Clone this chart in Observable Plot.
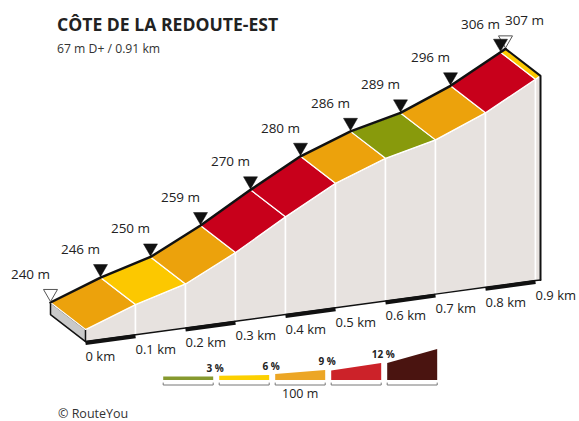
<!DOCTYPE html>
<html>
<head>
<meta charset="utf-8">
<script src="https://cdn.jsdelivr.net/npm/d3@7"></script>
<script src="https://cdn.jsdelivr.net/npm/@observablehq/plot@0.6"></script>
<style>
  body { margin: 0; background: #fff; font-family: "Open Sans", sans-serif; }
  #wrap { position: relative; width: 579px; height: 421px; overflow: hidden; }
  #chart { position: absolute; left: 0; top: 0; }
  #title { position: absolute; left: 57px; top: 15px; font-size: 17.6px; line-height: 18px; font-weight: 700; color: #222; white-space: nowrap; }
  #sub { position: absolute; left: 57px; top: 42px; font-size: 12.2px; line-height: 13px; color: #333; white-space: nowrap; }
  #legend { position: absolute; left: 150px; top: 340px; }
  #caption { position: absolute; left: 58px; top: 408px; font-size: 12.5px; line-height: 12px; color: #333; white-space: nowrap; }
</style>
</head>
<body>
<div id="wrap">
  <div id="chart"></div>
  <div id="title"></div>
  <div id="sub"></div>
  <div id="legend"></div>
  <div id="caption"></div>
</div>
<script>
// ---------- data ----------
const titleText = "CÔTE DE LA REDOUTE-EST";
const subtitleText = "67 m D+ / 0.91 km";
const captionText = "© RouteYou";

const distKm = [0, 0.1, 0.2, 0.3, 0.4, 0.5, 0.6, 0.7, 0.8, 0.9, 0.91];
const elevM  = [240, 246, 250, 259, 270, 280, 286, 289, 296, 306, 307];
// gradient class of each segment between consecutive points
const segClass = ["6-9", "3-6", "6-9", "9-12", "9-12", "6-9", "0-3", "6-9", "9-12", "3-6"];

const kmTicks  = [0, 0.1, 0.2, 0.3, 0.4, 0.5, 0.6, 0.7, 0.8, 0.9];
const kmLabels = ["0 km", "0.1 km", "0.2 km", "0.3 km", "0.4 km", "0.5 km", "0.6 km", "0.7 km", "0.8 km", "0.9 km"];

const legendClasses = ["0-3", "3-6", "6-9", "9-12", ">12"];
const legendLabels  = ["3 %", "6 %", "9 %", "12 %", ""];
const legendLengthM = 100;
const legendLengthLabel = "100 m";

// ---------- styles ----------
const classColor = {"0-3": "#889a0c", "3-6": "#fcc800", "6-9": "#eca20c", "9-12": "#c8001b", ">12": "#4a1410"};
const legendColor = {"0-3": "#86992e", "3-6": "#fcd000", "6-9": "#eca625", "9-12": "#cc2229", ">12": "#4a1410"};
const wallColor = "#e7e2df";
const sideColor = "#c9c9c9";

// oblique projection (style): tilt per km, depth offset, base of the wall
const TILT = 55.56;          // virtual metres added per km
const DEPTH_KM = 0.07, DEPTH_V = -12.5;
const baseV = km => 234.4 + 31.4 * km;
const V = (km, e) => e + TILT * km;

const back  = i => ({x: distKm[i], y: V(distKm[i], elevM[i])});
const front = i => ({x: distKm[i] + DEPTH_KM, y: V(distKm[i], elevM[i]) + DEPTH_V});
const baseF = km => ({x: km + DEPTH_KM, y: baseV(km) + DEPTH_V});
const baseB = km => ({x: km, y: baseV(km)});

const n = distKm.length;

// polygons
const wall = [], ribbon = [];
for (let i = 0; i < n - 1; i++) {
  const a = front(i), b = front(i + 1), c = baseF(distKm[i + 1]), d = baseF(distKm[i]);
  [a, b, c, d, a].forEach(p => wall.push({...p, id: i}));
  const e = back(i), f = back(i + 1), g = front(i + 1), h = front(i);
  [e, f, g, h, e].forEach(p => ribbon.push({...p, id: i, fill: classColor[segClass[i]]}));
}
const side = [back(0), baseB(0), baseF(0), front(0), back(0)];
const baseLine = distKm.map(baseF);
const thick = [];
for (let i = 0; i < kmTicks.length - 1; i += 2) {
  thick.push({...baseF(kmTicks[i]), id: i}, {...baseF(kmTicks[i + 1]), id: i});
}
const rightEdge = [back(n - 1), front(n - 1), baseF(distKm[n - 1])];
const profile = distKm.map((d, i) => back(i));
const pts = distKm.map((d, i) => ({...back(i), label: `${elevM[i]} m`, i}));
const solid = pts.filter(p => p.i > 0 && p.i < n - 1);
const hollow = pts.filter(p => p.i === 0 || p.i === n - 1);
const labelsLeft = pts.filter(p => p.i < n - 1);
const labelsRight = pts.filter(p => p.i === n - 1);
const ticks = kmTicks.map((k, i) => ({...baseF(k), label: kmLabels[i]}));

const chart = Plot.plot({
  width: 579, height: 421,
  marginTop: 0, marginRight: 0, marginBottom: 0, marginLeft: 0,
  x: {domain: [0, 1], range: [50, 550], axis: null},
  y: {domain: [240, 380], range: [302, 0], axis: null},
  color: {type: "identity"},
  style: {fontFamily: "'Open Sans', sans-serif", background: "white"},
  marks: [
    Plot.line(wall, {x: "x", y: "y", z: "id", fill: wallColor, stroke: "white", strokeWidth: 1.5}),
    Plot.line(side, {x: "x", y: "y", fill: sideColor, stroke: "#111", strokeWidth: 1.5, strokeLinejoin: "round"}),
    Plot.line(ribbon, {x: "x", y: "y", z: "id", fill: "fill", stroke: "white", strokeWidth: 1.2, strokeLinejoin: "round"}),
    Plot.line(baseLine, {x: "x", y: "y", stroke: "#111", strokeWidth: 1.5}),
    Plot.line(thick, {x: "x", y: "y", z: "id", stroke: "#111", strokeWidth: 4, dy: 1.5, strokeLinecap: "butt"}),
    Plot.line(rightEdge, {x: "x", y: "y", stroke: "#111", strokeWidth: 2, strokeLinejoin: "miter"}),
    Plot.line(profile, {x: "x", y: "y", stroke: "#111", strokeWidth: 2.5, strokeLinejoin: "round", strokeLinecap: "round"}),
    Plot.dot(hollow, {x: "x", y: "y", symbol: "triangle", rotate: 180, r: 5.2, dy: -9, fill: "white", stroke: "#555", strokeWidth: 1}),
    Plot.dot(solid, {x: "x", y: "y", symbol: "triangle", rotate: 180, r: 5.2, dy: -9, fill: "#111", stroke: "#111", strokeWidth: 0.5}),
    Plot.text(labelsLeft, {x: "x", y: "y", text: "label", dx: -20, dy: -28, fontSize: 13.5, fill: "#222"}),
    Plot.text(labelsRight, {x: "x", y: "y", text: "label", dx: 19, dy: -28, fontSize: 13.5, fill: "#222"}),
    Plot.text(ticks, {x: "x", y: "y", text: "label", textAnchor: "start", dy: 15, fontSize: 13, fill: "#222"})
  ]
});
document.getElementById("chart").appendChild(chart);

// ---------- legend ----------
const wedgeLeft  = [3.5, 4.2, 6, 9.5, 17];
const wedgeRight = [3.5, 5, 10, 17, 31];
const SPACING = 112;
const wedges = [], brackets = [], wedgeLabels = [];
legendClasses.forEach((c, i) => {
  const x0 = i * SPACING, x1 = x0 + legendLengthM;
  [[x0, 0], [x1, 0], [x1, wedgeRight[i]], [x0, wedgeLeft[i]], [x0, 0]].forEach(([x, y]) => wedges.push({x, y, id: i, fill: legendColor[c]}));
  [[x0, -3], [x0, -5], [x1, -5], [x1, -3]].forEach(([x, y]) => brackets.push({x, y, id: i}));
  if (legendLabels[i]) wedgeLabels.push({x: x1, y: wedgeRight[i], label: legendLabels[i]});
});
const legend = Plot.plot({
  width: 300, height: 65,
  marginTop: 0, marginRight: 0, marginBottom: 0, marginLeft: 0,
  x: {domain: [0, 600], range: [12.7, 312.7], axis: null},
  y: {domain: [0, 40], range: [39.5, -0.5], axis: null},
  color: {type: "identity"},
  style: {fontFamily: "'Open Sans', sans-serif", background: "transparent"},
  marks: [
    Plot.line(wedges, {x: "x", y: "y", z: "id", fill: "fill", stroke: "none"}),
    Plot.line(brackets, {x: "x", y: "y", z: "id", stroke: "#777", strokeWidth: 1}),
    Plot.text(wedgeLabels, {x: "x", y: "y", text: "label", dx: 2, dy: -8, fontSize: 10, fontWeight: "bold", fill: "#222"}),
    Plot.text([{x: 2 * SPACING + legendLengthM / 2, y: -13.5}], {x: "x", y: "y", text: () => legendLengthLabel, fontSize: 12.5, fill: "#222"})
  ]
});
document.getElementById("legend").appendChild(legend);

document.getElementById("title").textContent = titleText;
document.getElementById("sub").textContent = subtitleText;
document.getElementById("caption").textContent = captionText;
</script>
</body>
</html>
